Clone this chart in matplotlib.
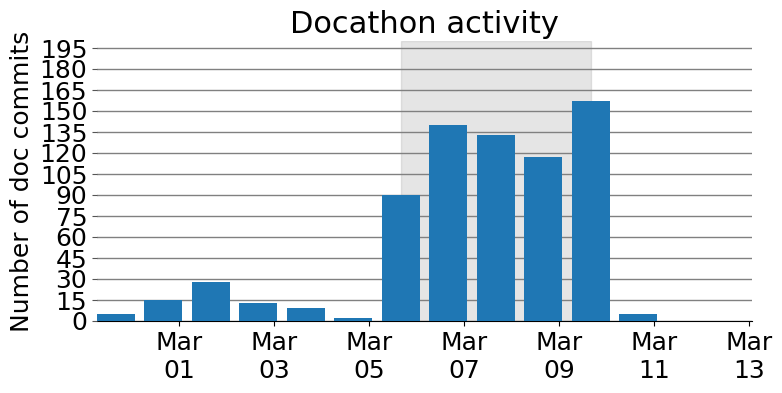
import matplotlib
matplotlib.use("Agg")
import matplotlib.pyplot as plt
import matplotlib.dates as mdates
import pandas as pd

dates = pd.date_range("2017-02-27 16:00", periods=14, freq="D")
commits = [5, 15, 28, 13, 9, 2, 90, 140, 133, 117, 157, 5, 0, 0]
event_start = pd.Timestamp("2017-03-05 16:00")
event_end = pd.Timestamp("2017-03-09 16:00")
yticks = list(range(0, 200, 15))

fig = plt.figure(figsize=(7.82, 3.93), dpi=100)
ax = fig.add_axes([97/782, 1-321/393, (752-97)/782, (321-41)/393])
ax.bar(dates, commits, width=0.8, color="#1f77b4", zorder=3)
ax.axvspan(event_start, event_end, color="gray", alpha=0.2, zorder=1)
ax.set_ylim(0, 200)
ax.margins(x=0)
ax.set_yticks(yticks)
ax.yaxis.grid(True, color="gray", linewidth=1, zorder=2)
ax.set_axisbelow(False)
for s in ["left", "top", "right"]:
    ax.spines[s].set_visible(False)
ax.xaxis.set_major_locator(mdates.DayLocator(bymonthday=[1, 3, 5, 7, 9, 11, 13]))
ax.xaxis.set_major_formatter(mdates.DateFormatter("%b\n%d"))
ax.tick_params(labelsize=18)
ax.tick_params(axis="y", color="#555555")
ax.set_ylabel("Number of doc commits", fontsize=18)
ax.set_title("Docathon activity", fontsize=22)
fig.savefig("out.png", dpi=100)
